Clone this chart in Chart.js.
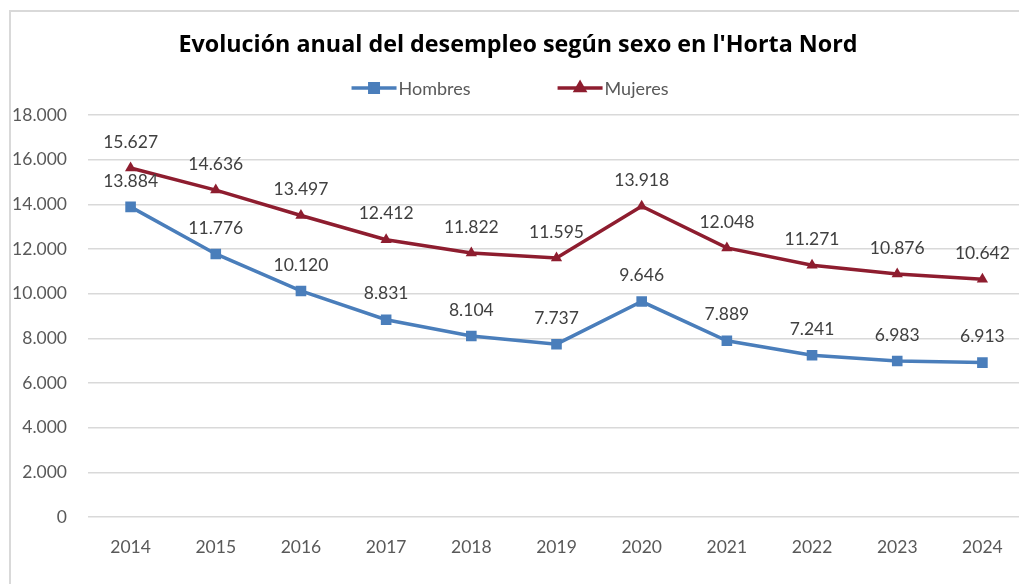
<!DOCTYPE html>
<html>
<head>
<meta charset="utf-8">
<script src="https://cdn.jsdelivr.net/npm/chart.js@4.4.0/dist/chart.umd.min.js"></script>
<style>
    html, body { margin: 0; padding: 0; background: #fff; overflow: hidden; }
    #marco { position: absolute; left: 9px; top: 10px; width: 1040px; height: 600px; border: 2px solid #d9d9d9; }
</style>
</head>
<body>
<div id="marco"><canvas id="grafico" width="1040" height="600"></canvas></div>
<script>
// Datos del gráfico
const anios = ['2014', '2015', '2016', '2017', '2018', '2019', '2020', '2021', '2022', '2023', '2024'];
const hombres = [13884, 11776, 10120, 8831, 8104, 7737, 9646, 7889, 7241, 6983, 6913];
const mujeres = [15627, 14636, 13497, 12412, 11822, 11595, 13918, 12048, 11271, 10876, 10642];
const ticksY = [0, 2000, 4000, 6000, 8000, 10000, 12000, 14000, 16000, 18000];

const AZUL = '#4A7EBB';
const GRANATE = '#8E1D2F';
const FUENTE = 'Lato, "Open Sans", sans-serif';

function miles(v) {
    return String(v).replace(/\B(?=(\d{3})+(?!\d))/g, '.'); // 18000 -> 18.000
}

// Etiquetas de valor encima de cada punto
const etiquetas = {
    id: 'etiquetas',
    afterDatasetsDraw(chart) {
        const ctx = chart.ctx;
        ctx.save();
        ctx.font = '17.5px ' + FUENTE;
        ctx.fillStyle = '#404040';
        ctx.textAlign = 'center';
        ctx.textBaseline = 'middle';
        chart.data.datasets.forEach((ds, i) => {
            chart.getDatasetMeta(i).data.forEach((p, j) => {
                ctx.fillText(miles(ds.data[j]), p.x, p.y - 26);
            });
        });
        ctx.restore();
    }
};

// Leyenda con línea y marcador, como en Excel
const leyenda = {
    id: 'leyenda',
    afterDraw(chart) {
        const ctx = chart.ctx;
        const y = 76;
        const largo = 45, hueco = 87;
        ctx.save();
        ctx.font = '18px ' + FUENTE;
        ctx.textBaseline = 'middle';
        const items = chart.data.datasets.map(ds => ({ ds, w: largo + 2 + ctx.measureText(ds.label).width }));
        const total = items.reduce((s, it) => s + it.w, 0) + hueco * (items.length - 1);
        let x = chart.width / 2 - 21 - total / 2;
        items.forEach(it => {
            const ds = it.ds;
            ctx.strokeStyle = ds.borderColor;
            ctx.lineWidth = 3.5;
            ctx.beginPath();
            ctx.moveTo(x, y);
            ctx.lineTo(x + largo, y);
            ctx.stroke();
            ctx.fillStyle = ds.borderColor;
            Chart.helpers.drawPoint(ctx, {
                pointStyle: ds.pointStyle, radius: ds.pointRadius - 1.5, borderWidth: 1
            }, x + largo / 2, y);
            ctx.fillStyle = '#595959';
            ctx.textAlign = 'left';
            ctx.fillText(ds.label, x + largo + 2, y + 1);
            x += it.w + hueco;
        });
        ctx.restore();
    }
};

const ctx = document.getElementById('grafico').getContext('2d');

new Chart(ctx, {
    type: 'line',
    data: {
        labels: anios,
        datasets: [{
            label: 'Hombres',
            data: hombres,
            borderColor: AZUL,
            backgroundColor: AZUL,
            borderWidth: 3.5,
            pointStyle: 'rect',
            pointRadius: 7.5,
            pointBorderWidth: 0,
            tension: 0
        }, {
            label: 'Mujeres',
            data: mujeres,
            borderColor: GRANATE,
            backgroundColor: GRANATE,
            borderWidth: 3.5,
            pointStyle: 'triangle',
            pointRadius: 6.5,
            pointBorderWidth: 0,
            tension: 0
        }]
    },
    options: {
        responsive: false,
        animation: false,
        layout: { padding: { left: 0, right: 26, top: 0, bottom: 0 } },
        plugins: {
            legend: { display: false },
            tooltip: { enabled: false },
            title: {
                display: true,
                text: "Evolución anual del desempleo según sexo en l'Horta Nord",
                color: '#000000',
                font: { family: '"Open Sans", Lato, sans-serif', size: 23.3, weight: 'bold' },
                padding: { top: 19, bottom: 56 }
            }
        },
        scales: {
            x: {
                offset: true,
                grid: { display: false, drawTicks: false },
                border: { display: false },
                ticks: { color: '#595959', font: { family: FUENTE, size: 17.5 }, padding: 20 },
                afterFit(scale) { scale.height = 95; }
            },
            y: {
                min: 0,
                max: 18000,
                afterBuildTicks(scale) { scale.ticks = ticksY.map(v => ({ value: v })); },
                grid: { color: '#d9d9d9', lineWidth: 1.5, drawTicks: false },
                border: { display: false },
                ticks: {
                    color: '#595959',
                    font: { family: FUENTE, size: 17.5 },
                    padding: 21,
                    callback: v => miles(v)
                },
                afterFit(scale) { scale.width = 77; }
            }
        }
    },
    plugins: [etiquetas, leyenda]
});
</script>
</body>
</html>
